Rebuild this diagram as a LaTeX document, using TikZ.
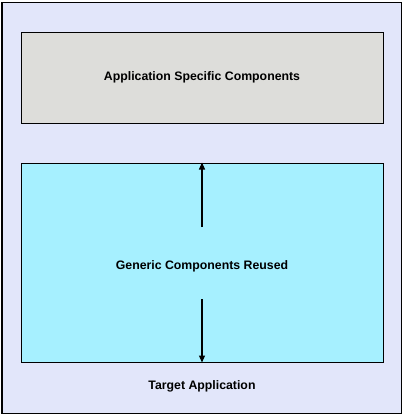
\documentclass[tikz,border=0pt]{standalone}
\usepackage{fontspec}
\setmainfont{Liberation Sans}
\usetikzlibrary{arrows.meta}
\definecolor{targetfill}{RGB}{226,230,250}
\definecolor{specfill}{RGB}{221,221,218}
\definecolor{reusefill}{RGB}{166,240,255}
\begin{document}
\begin{tikzpicture}[x=1pt, y=-1pt, every node/.style={font=\fontsize{12.3}{14}\selectfont\bfseries},
  layerbox/.style={draw=black, line width=1pt, minimum width=362pt, inner sep=0pt}]
  \useasboundingbox (0,0) rectangle (404,416);
  \node[draw=black, line width=1pt, fill=targetfill, minimum width=399pt, minimum height=411pt, inner sep=0pt] (target) at (201.5,207.5) {};
  \node[layerbox, fill=specfill, minimum height=91pt] (spec) at (202,77.5) {Application Specific Components};
  \node[layerbox, fill=reusefill, minimum height=199pt] (reuse) at (202,262.5) {};
  \node (reuselbl) at (202,266) {Generic Components Reused};
  \node (targetlbl) at (202,386) {Target Application};
  % arrows inside the reused block
  \coordinate (uptail) at (202,227);
  \coordinate (downtail) at (202,299);
  \draw[-{Triangle[length=7pt,width=6pt]}, line width=1.2pt] (uptail) -- (reuse.north);
  \draw[-{Triangle[length=7pt,width=6pt]}, line width=1.2pt] (downtail) -- (reuse.south);
\end{tikzpicture}
\end{document}
